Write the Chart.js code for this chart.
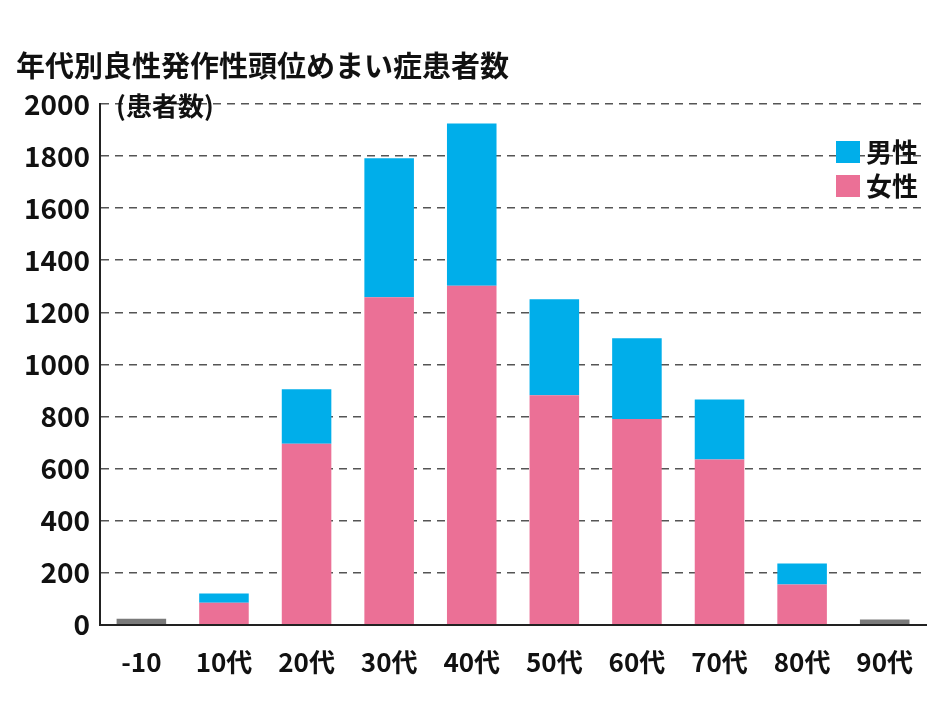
<!DOCTYPE html>
<html>
<head>
<meta charset="utf-8">
<script src="https://cdn.jsdelivr.net/npm/chart.js@4"></script>
<style>
  body { margin: 0; background: #fff; }
  #wrap { width: 950px; height: 720px; position: relative; }
</style>
</head>
<body>
<div id="wrap"><canvas id="c" width="950" height="720"></canvas></div>
<script>
const titleText = '年代別良性発作性頭位めまい症患者数';
const categories = ['-10', '10代', '20代', '30代', '40代', '50代', '60代', '70代', '80代', '90代'];
const femaleValues = [null, 85, 695, 1258, 1302, 882, 790, 635, 155, null];
const maleValues = [null, 35, 210, 534, 623, 368, 310, 230, 80, null];
const otherValues = [23, null, null, null, null, null, null, null, null, 20];
const yTicks = [0, 200, 400, 600, 800, 1000, 1200, 1400, 1600, 1800, 2000];

const FONT = '"Noto Sans CJK JP", "Noto Sans", sans-serif';
const PINK = '#eb7096';
const BLUE = '#00aeea';
const GRAY = '#7a7a7a';

const overlay = {
  id: 'overlay',
  afterDraw(chart) {
    const ctx = chart.ctx;
    const area = chart.chartArea;
    ctx.save();
    ctx.fillStyle = '#111';
    ctx.font = 'bold 29px ' + FONT;
    ctx.textBaseline = 'middle';
    ctx.fillText(titleText, 16, 66);
    ctx.font = 'bold 26px ' + FONT;
    ctx.fillText('(患者数)', area.left + 16, area.top + 2);
    // legend
    const items = [['男性', BLUE], ['女性', PINK]];
    items.forEach((it, i) => {
      const y = 152 + i * 34;
      ctx.fillStyle = it[1];
      ctx.fillRect(836, y - 11, 24, 22);
      ctx.fillStyle = '#111';
      ctx.fillText(it[0], 866, y);
    });
    ctx.restore();
  }
};

new Chart(document.getElementById('c').getContext('2d'), {
  type: 'bar',
  data: {
    labels: categories,
    datasets: [
      { label: '女性', data: femaleValues, backgroundColor: PINK, stack: 's' },
      { label: '男性', data: maleValues, backgroundColor: BLUE, stack: 's' },
      { label: 'その他', data: otherValues, backgroundColor: GRAY, stack: 's' }
    ]
  },
  options: {
    responsive: false,
    animation: false,
    layout: { padding: { top: 104, right: 24, left: 14, bottom: 28 } },
    datasets: { bar: { barPercentage: 0.6, categoryPercentage: 1 } },
    plugins: { legend: { display: false }, tooltip: { enabled: false } },
    scales: {
      x: {
        stacked: true,
        grid: { display: false },
        border: { color: '#222', width: 2 },
        ticks: { color: '#111', font: { family: FONT, size: 26, weight: 'bold' }, padding: 14 }
      },
      y: {
        stacked: true,
        min: 0,
        max: 2000,
        afterBuildTicks(scale) { scale.ticks = yTicks.map(v => ({ value: v })); },
        grid: { color: '#555', lineWidth: 1.5, drawTicks: false },
        border: { color: '#222', width: 2, dash: [8, 6] },
        ticks: {
          color: '#111', font: { family: FONT, size: 28, weight: 'bold' }, padding: 10,
          callback: v => String(v)
        }
      }
    }
  },
  plugins: [overlay]
});
</script>
</body>
</html>
